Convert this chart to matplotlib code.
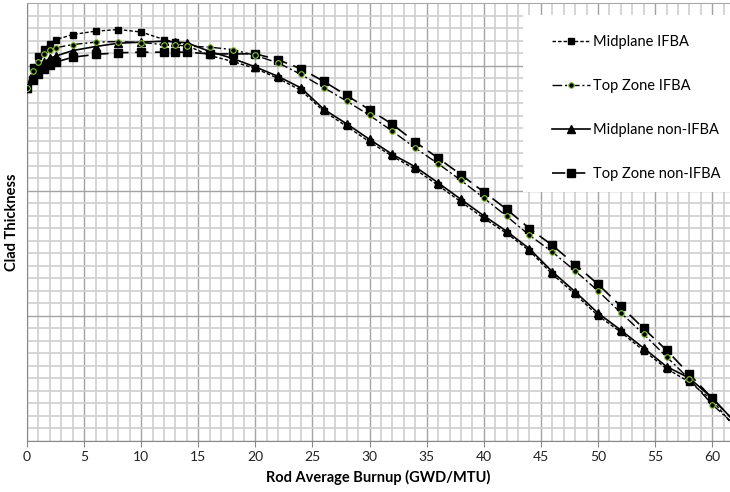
import matplotlib
matplotlib.use('Agg')
from matplotlib import pyplot as plt
from matplotlib.ticker import MultipleLocator
from matplotlib.patches import Rectangle

plt.rcParams['font.family'] = ['Lato', 'DejaVu Sans']

burnup = [0, 0.5, 1, 1.5, 2, 2.5, 4, 6, 8, 10, 12, 13, 14, 16, 18, 20, 22, 24, 26, 28,
          30, 32, 34, 36, 38, 40, 42, 44, 46, 48, 50, 52, 54, 56, 58, 60, 62]

midplane_ifba = [2.817, 2.987, 3.075, 3.134, 3.174, 3.206, 3.248, 3.275, 3.288, 3.268,
                 3.208, 3.187, 3.160, 3.081, 3.033, 2.977, 2.897, 2.801, 2.634, 2.514,
                 2.390, 2.275, 2.171, 2.043, 1.911, 1.780, 1.660, 1.520, 1.333, 1.173,
                 1.002, 0.870, 0.722, 0.579, 0.471, 0.327, 0.104]

top_zone_ifba = [2.817, 2.953, 3.027, 3.089, 3.126, 3.142, 3.168, 3.187, 3.192, 3.184,
                 3.168, 3.164, 3.156, 3.147, 3.128, 3.081, 3.021, 2.929, 2.823, 2.716,
                 2.602, 2.476, 2.341, 2.216, 2.083, 1.942, 1.796, 1.644, 1.511, 1.359,
                 1.200, 1.024, 0.854, 0.673, 0.495, 0.291, 0.128]

midplane_non_ifba = [2.817, 2.913, 2.979, 3.027, 3.059, 3.075, 3.120, 3.152, 3.179, 3.187,
                     3.195, 3.188, 3.182, 3.113, 3.057, 2.989, 2.913, 2.821, 2.650, 2.534,
                     2.410, 2.290, 2.191, 2.063, 1.931, 1.800, 1.676, 1.536, 1.353, 1.193,
                     1.022, 0.886, 0.742, 0.595, 0.503, 0.343, 0.152]

top_zone_non_ifba = [2.817, 2.881, 2.935, 2.975, 3.006, 3.027, 3.067, 3.089, 3.102, 3.107,
                     3.107, 3.107, 3.107, 3.093, 3.093, 3.094, 3.046, 2.974, 2.873, 2.761,
                     2.647, 2.530, 2.389, 2.261, 2.128, 1.990, 1.852, 1.698, 1.564, 1.410,
                     1.253, 1.077, 0.899, 0.726, 0.535, 0.341, 0.152]

labels = ['Midplane IFBA', 'Top Zone IFBA', 'Midplane non-IFBA', 'Top Zone non-IFBA']

fig = plt.figure(figsize=(7.3, 4.92), dpi=100)
ax = fig.add_axes([27/730, 51/492, 703/730, 438/492])
ax.set_xlim(0, 61.56)
ax.set_ylim(0, 3.5)

# grid like the spreadsheet chart
ax.xaxis.set_major_locator(MultipleLocator(5))
ax.xaxis.set_minor_locator(MultipleLocator(1))
ax.yaxis.set_major_locator(MultipleLocator(1))
ax.yaxis.set_minor_locator(MultipleLocator(0.1))
ax.grid(which='minor', color='#d2d2d2', lw=1.3)
ax.grid(which='major', color='#a3a3a3', lw=1.0)
ax.set_axisbelow(True)

ax.tick_params(axis='y', which='both', length=0, labelleft=False)
ax.tick_params(axis='x', which='major', length=4, color='#888888', labelsize=10,
               labelcolor='#222222', pad=3)
ax.tick_params(axis='x', which='minor', length=0)

for s in ['left', 'bottom']:
    ax.spines[s].set_color('#888888')
ax.spines['top'].set_color('#a8a8a8')
ax.spines['right'].set_visible(False)

ax.plot(burnup, midplane_ifba, color='black', lw=1, ls=(0, (2.5, 1.5)),
        marker='s', ms=5, label=labels[0], zorder=3)
ax.plot(burnup, top_zone_ifba, color='black', lw=1, ls=(0, (7, 2, 1.5, 2)),
        marker='o', ms=4, mfc='black', mec='#8cc63f', mew=0.8, label=labels[1], zorder=4)
ax.plot(burnup, midplane_non_ifba, color='black', lw=1.2, ls='-',
        marker='^', ms=5.5, label=labels[2], zorder=3)
ax.plot(burnup, top_zone_non_ifba, color='black', lw=1.2, ls=(0, (8, 4)),
        marker='s', ms=5.5, label=labels[3], zorder=3)

# white legend box
box = Rectangle((523/730, 1 - 192/492), 207/730, 177/492, transform=fig.transFigure,
                facecolor='white', edgecolor='none', zorder=5)
fig.patches.append(box)
leg = fig.legend(loc='upper left', bbox_to_anchor=(552/730, 1 - 35/492), frameon=False,
                 fontsize=10.5, labelspacing=2.05, handlelength=2.6, handletextpad=0.2,
                 borderpad=0, borderaxespad=0)
leg.set_zorder(6)

ax.set_xlabel('Rod Average Burnup (GWD/MTU)', fontweight='bold', fontsize=10.5, labelpad=5)
ax.set_ylabel('Clad Thickness', fontweight='bold', fontsize=10.5, labelpad=6)

plt.savefig('out.png', dpi=100)
plt.close('all')
